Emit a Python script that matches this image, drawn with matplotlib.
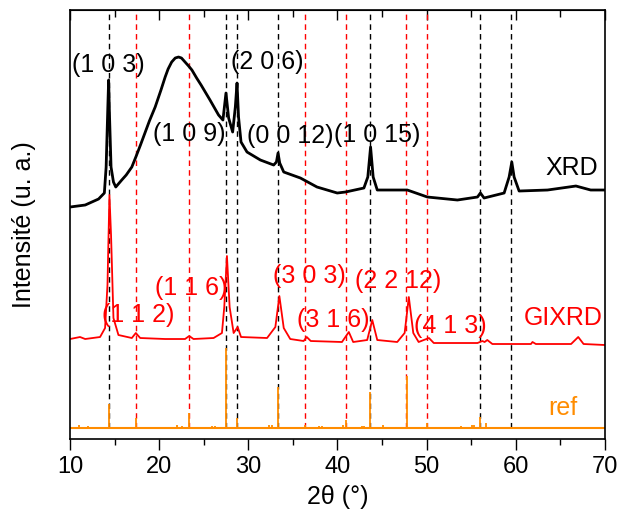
import numpy as np
import matplotlib
matplotlib.use("Agg")
import matplotlib.pyplot as plt

plt.rcParams['font.family'] = ['Liberation Sans', 'DejaVu Sans']

# XRD (black) trace
xrd_2theta = [10.0, 11.7, 13.2, 13.85, 14.05, 14.24, 14.33, 14.42, 14.6, 14.87,
              15.13, 15.8, 16.3, 16.93, 17.38, 17.9, 18.4, 18.9, 19.55, 20.2,
              20.67, 21.0, 21.4, 21.8, 22.17, 22.5, 22.9, 23.3, 23.67, 24.2,
              24.7, 25.7, 26.66, 27.15, 27.49, 27.79, 28.24, 28.54, 28.73,
              28.9, 29.18, 29.85, 31.35, 32.84, 33.15, 33.33, 33.52, 33.97, 35.84,
              37.7, 39.97, 40.9, 42.96, 43.4, 43.71, 44.0, 44.46, 47.83, 50.08,
              53.45, 55.7, 56.03, 56.44, 58.69, 59.25, 59.55, 59.81, 60.37, 63.56,
              66.74, 68.4, 70.0]
xrd_int = [232, 234, 240, 246, 272, 332, 359, 326, 272, 257,
           252, 259, 264, 272, 282, 294, 306, 318, 332, 349,
           362, 370, 377, 381, 382, 381, 377, 373, 369, 361,
           354, 339, 324, 319, 346, 321, 307, 332, 356,
           322, 297, 287, 279, 274, 277, 286, 276, 267, 261,
           252, 246, 247, 251, 262, 292, 262, 249, 249, 242,
           239, 242, 246, 241, 246, 262, 277, 262, 248, 249,
           253, 249, 249]

# GIXRD (red) trace
gi_2theta = [10.0, 11.12, 11.7, 13.37, 13.93, 14.2, 14.42, 14.6, 14.87, 15.43,
             16.93, 17.38, 17.87, 20.67, 22.9, 23.37, 23.85, 26.1, 27.04, 27.3,
             27.6, 27.9, 28.35, 28.8, 29.18, 32.1, 33.03, 33.48, 33.97, 34.7,
             36.2, 36.55, 37.0, 40.5, 41.27, 41.76, 43.33, 43.9, 44.46, 46.7,
             47.53, 48.0, 48.5, 49.1, 50.26, 50.8, 55.7, 56.25, 56.5, 56.8,
             57.37, 61.7, 61.87, 62.25, 66.2, 67.0, 67.6, 70.0]
gi_int = [100, 102, 100, 102, 111, 154, 244, 204, 121, 104,
          101, 106, 101, 100, 100, 103, 100, 101, 106, 132,
          183, 132, 106, 112, 102, 101, 112, 143, 111, 100,
          98, 102, 98, 97, 107, 97, 99, 119, 99, 97,
          106, 142, 106, 97, 101, 96, 96, 98, 97, 99,
          95, 95, 97, 95, 95, 102, 95, 94]

# reference pattern sticks
ref_2theta = [11.0, 12.05, 14.35, 17.38, 18.0, 22.0, 22.55, 23.4, 25.9, 26.3,
              27.5, 28.7, 29.6, 32.3, 32.66, 33.3, 35.0, 35.5, 36.4, 37.9,
              38.3, 40.6, 41.0, 42.8, 43.0, 43.7, 45.1, 47.75, 49.4, 50.05,
              51.6, 53.3, 53.8, 55.1, 55.3, 56.0, 56.7]
ref_int = [14, 13, 35, 21, 12, 14, 13, 26, 13, 13,
           91, 21, 12, 14, 14, 52, 12, 12, 14, 13,
           13, 14, 19, 13, 13, 47, 14, 63, 12, 16,
           12, 12, 13, 14, 14, 22, 16]
ref_base = 11

# dashed marker lines
black_lines = [14.4, 27.5, 28.7, 33.3, 43.7, 56.0, 59.5]
red_lines = [17.4, 23.4, 36.4, 40.9, 47.7, 50.0]

# peak labels: text, 2theta, height
labels_xrd = [("(1 0 3)", 14.26, 374), ("(2 0 6)", 32.1, 377), ("(1 0 9)", 23.35, 305),
              ("(0 0 12)", 34.67, 303), ("(1 0 15)", 44.43, 304), ("XRD", 66.3, 271)]
labels_gi = [("(1 1 2)", 17.63, 124), ("(1 1 6)", 23.57, 151), ("(3 0 3)", 36.8, 163),
             ("(3 1 6)", 39.5, 119), ("(2 2 12)", 46.78, 158), ("(4 1 3)", 52.6, 113),
             ("GIXRD", 65.3, 121)]

red = '#ff0000'
orange = '#ff8c00'

fig = plt.figure(figsize=(6.17, 5.23), dpi=100)
ax = fig.add_axes([0.1135, 0.1606, 0.867, 0.8212])

top = 429.5
ax.vlines(black_lines, ref_base, top, colors='black', linestyles=(0, (4, 3)), linewidth=1.0)
ax.vlines(red_lines, ref_base, top, colors=red, linestyles=(0, (4, 3)), linewidth=1.0)

ax.plot(xrd_2theta, xrd_int, color='black', linewidth=2.0)
ax.plot(gi_2theta, gi_int, color=red, linewidth=1.3)
ax.vlines(ref_2theta, ref_base, np.array(ref_int), colors=orange, linewidth=1.3)
ax.axhline(ref_base, color=orange, linewidth=1.5)

for txt, x, y in labels_xrd:
    ax.text(x, y, txt, color='black', fontsize=18, ha='center', va='center')
for txt, x, y in labels_gi:
    ax.text(x, y, txt, color=red, fontsize=18, ha='center', va='center')
ax.text(65.3, 31, "ref", color=orange, fontsize=18, ha='center', va='center')

ax.set_xlim(10, 70)
ax.set_ylim(0, top)
ax.set_xticks(range(10, 71, 10))
ax.set_xticks(range(15, 70, 10), minor=True)
ax.set_yticks([])
ax.tick_params(axis='x', which='major', direction='out', length=8, width=1, labelsize=17, pad=4)
ax.tick_params(axis='x', which='minor', direction='out', length=4, width=1)

secax = ax.secondary_xaxis('top')
secax.set_xticks(range(10, 71, 10))
secax.set_xticks(range(15, 70, 10), minor=True)
secax.tick_params(which='major', direction='in', length=7, width=1, labeltop=False)
secax.tick_params(which='minor', direction='in', length=5, width=1)

for s in ax.spines.values():
    s.set_linewidth(1.2)

ax.set_xlabel("2θ (°)", fontsize=18)
ax.set_ylabel("Intensité (u. a.)", fontsize=18)
ax.xaxis.set_label_coords(0.5, -0.107)
ax.yaxis.set_label_coords(-0.064, 0.5)

fig.savefig("out.png", dpi=100)
